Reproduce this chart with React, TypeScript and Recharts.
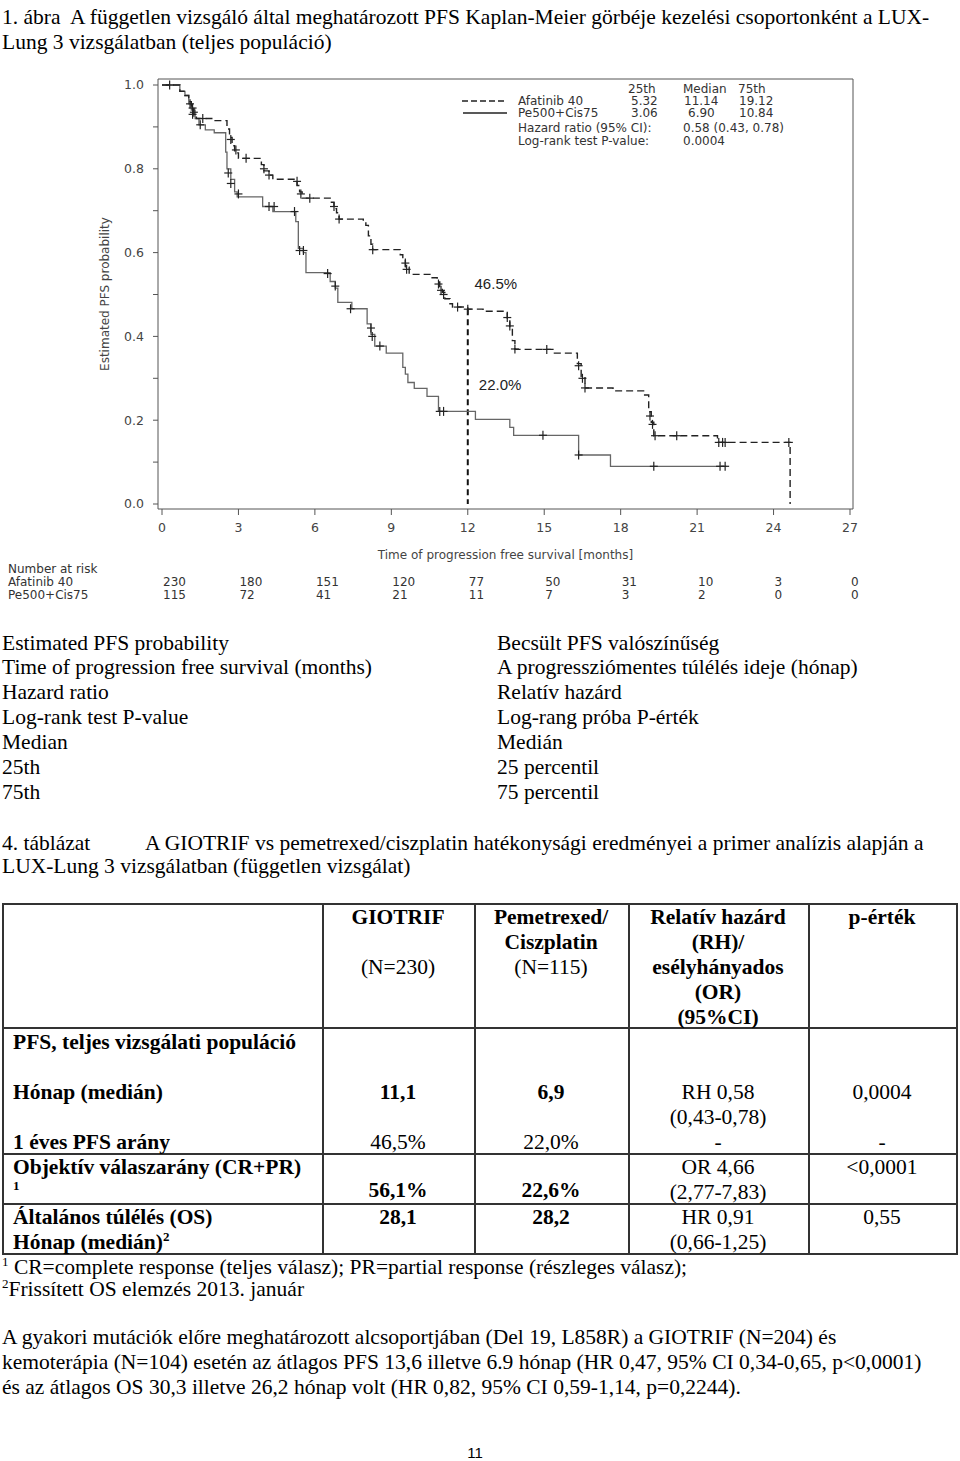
import React from "react";
import {
  ComposedChart,
  Line,
  Scatter,
  XAxis,
  YAxis,
  ReferenceLine,
  ReferenceDot,
} from "recharts";

document.body.style.margin = "0";

// tengelyek
const monthTicks = [0, 3, 6, 9, 12, 15, 18, 21, 24, 27];
const probTicks = [0, 0.1, 0.2, 0.3, 0.4, 0.5, 0.6, 0.7, 0.8, 0.9, 1.0];

// number at risk
const riskAfatinib = [230, 180, 151, 120, 77, 50, 31, 10, 3, 0];
const riskPemetrexed = [115, 72, 41, 21, 11, 7, 3, 2, 0, 0];

// Afatinib 40 - lépcsők (idő, túlélés)
const afatinibTimes = [
  0, 0.7, 0.9, 1.05, 1.15, 1.25, 1.35, 2.0, 2.55, 2.65, 2.75, 2.85, 3.0, 3.9, 4.0, 4.2, 4.35, 5.3, 5.4,
  5.5, 6.6, 6.75, 6.85, 6.95, 7.9, 8.0, 8.1, 8.2, 8.27, 9.35, 9.45, 9.55, 9.7, 10.6, 10.8, 10.9, 11.0,
  11.1, 11.3, 11.4, 12.0, 12.6, 13.55, 13.65, 13.75, 13.85, 15.4, 16.3, 16.45, 16.6, 17.7, 18.9, 19.1,
  19.2, 19.3, 21.8, 24.65,
];
const afatinibSurv = [
  1.0, 0.985, 0.975, 0.96, 0.945, 0.93, 0.92, 0.915, 0.895, 0.875, 0.855, 0.838, 0.825, 0.81, 0.795,
  0.785, 0.775, 0.76, 0.745, 0.73, 0.72, 0.705, 0.695, 0.68, 0.675, 0.665, 0.64, 0.62, 0.607, 0.595,
  0.585, 0.565, 0.548, 0.54, 0.53, 0.515, 0.505, 0.49, 0.478, 0.47, 0.465, 0.46, 0.44, 0.42, 0.39,
  0.369, 0.36, 0.335, 0.305, 0.277, 0.27, 0.26, 0.22, 0.195, 0.163, 0.147, 0,
];
const afatinibCensTimes = [
  0.3, 1.1, 1.2, 1.25, 1.6, 2.7, 2.9, 3.3, 4.0, 4.2, 5.3, 5.45, 5.8, 6.75, 6.95, 8.27, 9.55, 9.6, 10.85,
  10.95, 11.05, 11.6, 12.0, 13.55, 13.65, 13.85, 15.1, 16.35, 16.5, 16.6, 19.15, 19.25, 19.35, 20.2,
  21.85, 22.0, 22.1, 24.6,
];
const afatinibCensSurv = [
  1.0, 0.955, 0.945, 0.935, 0.92, 0.87, 0.845, 0.825, 0.8, 0.785, 0.77, 0.74, 0.73, 0.71, 0.68, 0.607,
  0.575, 0.56, 0.525, 0.51, 0.5, 0.47, 0.465, 0.445, 0.425, 0.37, 0.369, 0.33, 0.3, 0.277, 0.21, 0.19,
  0.163, 0.163, 0.147, 0.147, 0.147, 0.147,
];

// Pe500+Cis75
const pemetrexedTimes = [
  0, 0.7, 0.9, 1.05, 1.15, 1.3, 1.45, 1.7, 2.05, 2.5, 2.55, 2.7, 2.85, 2.95, 3.95, 4.35, 5.25, 5.35,
  5.55, 5.65, 6.6, 6.8, 6.9, 7.45, 8.05, 8.2, 8.35, 8.8, 9.45, 9.55, 9.65, 9.9, 10.4, 10.85, 12.3,
  13.65, 13.8, 16.35, 17.6, 22.15,
];
const pemetrexedSurv = [
  1.0, 0.985, 0.975, 0.955, 0.94, 0.92, 0.905, 0.893, 0.886, 0.84, 0.8, 0.775, 0.745, 0.733, 0.71,
  0.698, 0.674, 0.61, 0.6, 0.552, 0.531, 0.515, 0.481, 0.466, 0.43, 0.405, 0.377, 0.36, 0.326, 0.31,
  0.29, 0.276, 0.257, 0.221, 0.202, 0.183, 0.164, 0.117, 0.09, 0.09,
];
const pemetrexedCensTimes = [
  1.2, 1.5, 2.6, 2.7, 3.0, 4.2, 4.4, 5.2, 5.4, 5.55, 6.5, 6.8, 7.4, 8.2, 8.25, 8.55, 10.9, 11.05, 14.95,
  16.35, 19.3, 21.9, 22.1,
];
const pemetrexedCensSurv = [
  0.93, 0.905, 0.79, 0.765, 0.74, 0.71, 0.71, 0.698, 0.605, 0.605, 0.55, 0.52, 0.466, 0.42, 0.4, 0.377,
  0.221, 0.221, 0.164, 0.117, 0.09, 0.09, 0.09,
];

const toPoints = (ts: number[], ps: number[]) => ts.map((t, i) => ({ t, p: ps[i] }));
const afatinibSteps = toPoints(afatinibTimes, afatinibSurv);
const afatinibCensored = toPoints(afatinibCensTimes, afatinibCensSurv);
const pemetrexedSteps = toPoints(pemetrexedTimes, pemetrexedSurv);
const pemetrexedCensored = toPoints(pemetrexedCensTimes, pemetrexedCensSurv);

const sans = '"Liberation Sans", Arial, sans-serif';
const chartFont = '"DejaVu Sans", sans-serif';
const serif = '"Liberation Serif", "Times New Roman", serif';
const axisColor = "#555";

const Cross = (props: any) => {
  const { cx, cy, stroke } = props;
  return (
    <g stroke={stroke} strokeWidth={1.2}>
      <line x1={cx - 4} y1={cy} x2={cx + 4} y2={cy} />
      <line x1={cx} y1={cy - 4.5} x2={cx} y2={cy + 4.5} />
    </g>
  );
};

const RiskTick = (props: any) => {
  const { x, y, payload } = props;
  const i = monthTicks.indexOf(payload.value);
  return (
    <g fontFamily={chartFont} fontSize={12} fill="#333">
      <text x={x + 1} y={y + 21}>{riskAfatinib[i]}</text>
      <text x={x + 1} y={y + 34}>{riskPemetrexed[i]}</text>
    </g>
  );
};

const KmChart = () => (
  <ComposedChart width={960} height={620} margin={{ top: 78, right: 106, bottom: 15, left: 52 }}>
    <XAxis
      dataKey="t"
      type="number"
      domain={[0, 27]}
      ticks={monthTicks}
      interval={0}
      padding={{ left: 4, right: 3 }}
      height={56}
      tickSize={6}
      tickMargin={8}
      stroke={axisColor}
      tick={{ fill: "#444", fontSize: 12.5, fontFamily: chartFont }}
      label={{
        value: "Time of progression free survival [months]",
        position: "insideBottom",
        offset: 6,
        fill: "#444",
        fontSize: 12,
        fontFamily: chartFont,
      }}
    />
    <XAxis
      xAxisId="risk"
      dataKey="t"
      type="number"
      domain={[0, 27]}
      ticks={monthTicks}
      interval={0}
      padding={{ left: 4, right: 3 }}
      height={40}
      axisLine={false}
      tickLine={false}
      tickSize={0}
      tickMargin={0}
      tick={<RiskTick />}
    />
    <XAxis
      xAxisId="top"
      orientation="top"
      dataKey="t"
      type="number"
      domain={[0, 27]}
      padding={{ left: 4, right: 3 }}
      height={1}
      tick={false}
      tickLine={false}
      stroke={axisColor}
    />
    <YAxis
      dataKey="p"
      type="number"
      domain={[0, 1]}
      ticks={probTicks}
      interval={0}
      padding={{ top: 6, bottom: 5 }}
      width={106}
      tickSize={5}
      tickMargin={9}
      stroke={axisColor}
      tick={{ fill: "#444", fontSize: 12.5, fontFamily: chartFont }}
      tickFormatter={(v: number) => (Math.round(v * 10) % 2 === 0 ? v.toFixed(1) : "")}
      label={{
        value: "Estimated PFS probability",
        angle: -90,
        position: "center",
        fill: "#444",
        fontSize: 12,
        fontFamily: chartFont,
      }}
    />
    <YAxis
      yAxisId="right"
      orientation="right"
      dataKey="p"
      type="number"
      domain={[0, 1]}
      padding={{ top: 6, bottom: 5 }}
      width={1}
      tick={false}
      tickLine={false}
      stroke={axisColor}
    />
    {/* láthatatlan sorozatok, hogy a keret- és kockázati tengelyek is megjelenjenek */}
    <Line
      data={afatinibSteps}
      xAxisId="top"
      yAxisId="right"
      dataKey="p"
      stroke="none"
      dot={false}
      activeDot={false}
      isAnimationActive={false}
    />
    <Line
      data={afatinibSteps}
      xAxisId="risk"
      yAxisId="right"
      dataKey="p"
      stroke="none"
      dot={false}
      activeDot={false}
      isAnimationActive={false}
    />
    <ReferenceLine
      segment={[
        { x: 12, y: 0.465 },
        { x: 12, y: 0 },
      ]}
      stroke="#111"
      strokeWidth={2}
      strokeDasharray="6 4"
    />
    <Line
      data={pemetrexedSteps}
      dataKey="p"
      type="stepAfter"
      stroke="#666"
      strokeWidth={1.3}
      dot={false}
      isAnimationActive={false}
    />
    <Line
      data={afatinibSteps}
      dataKey="p"
      type="stepAfter"
      stroke="#222"
      strokeWidth={1.4}
      strokeDasharray="7 4"
      dot={false}
      isAnimationActive={false}
    />
    <Scatter data={pemetrexedCensored} dataKey="p" stroke="#222" shape={<Cross />} isAnimationActive={false} />
    <Scatter data={afatinibCensored} dataKey="p" stroke="#222" shape={<Cross />} isAnimationActive={false} />
    <ReferenceDot
      x={13.1}
      y={0.527}
      r={0}
      fill="none"
      stroke="none"
      label={{ value: "46.5%", position: "center", fill: "#222", fontSize: 15, fontFamily: sans }}
    />
    <ReferenceDot
      x={13.27}
      y={0.284}
      r={0}
      fill="none"
      stroke="none"
      label={{ value: "22.0%", position: "center", fill: "#222", fontSize: 15, fontFamily: sans }}
    />
  </ComposedChart>
);

type TProps = {
  x: number;
  y: number;
  children: React.ReactNode;
  bold?: boolean;
  center?: boolean;
  size?: number;
  font?: string;
  color?: string;
};

const T = ({ x, y, children, bold, center, size = 21.5, font = serif, color = "#000" }: TProps) => (
  <div
    style={{
      position: "absolute",
      left: center ? x - 200 : x,
      width: center ? 400 : undefined,
      textAlign: center ? "center" : undefined,
      top: y - size * 0.66,
      fontSize: size,
      lineHeight: `${Math.round(size * 1.32)}px`,
      fontWeight: bold ? 700 : 400,
      whiteSpace: "nowrap",
      fontFamily: font,
      color,
    }}
  >
    {children}
  </div>
);

const C = (props: TProps) => <T font={chartFont} size={12} color="#333" {...props} />;

const HLine = ({ x1, x2, y }: { x1: number; x2: number; y: number }) => (
  <div style={{ position: "absolute", left: x1, top: y, width: x2 - x1, height: 1.5, background: "#333" }} />
);
const VLine = ({ x, y1, y2 }: { x: number; y1: number; y2: number }) => (
  <div style={{ position: "absolute", left: x, top: y1, width: 1.5, height: y2 - y1, background: "#333" }} />
);

const tableCols = [2, 322, 474, 628, 808, 956];
const tableRows = [903, 1027, 1153, 1203, 1253];
const supStyle: React.CSSProperties = { fontSize: 13, lineHeight: 0, verticalAlign: "0.6em" };

export default function App() {
  return (
    <div style={{ position: "relative", width: 960, height: 1461, background: "#fff", overflow: "hidden" }}>
      <T x={2} y={17}>1. ábra&nbsp; A független vizsgáló által meghatározott PFS Kaplan-Meier görbéje kezelési csoportonként a LUX-</T>
      <T x={2} y={42}>Lung 3 vizsgálatban (teljes populáció)</T>

      <div style={{ position: "absolute", left: 0, top: 0 }}>
        <KmChart />
      </div>

      {/* jelmagyarázat a grafikonon */}
      <svg style={{ position: "absolute", left: 460, top: 95 }} width={50} height={24}>
        <line x1={2} y1={6} x2={47} y2={6} stroke="#222" strokeWidth={1.4} strokeDasharray="6 3" />
        <line x1={3} y1={18} x2={47} y2={18} stroke="#222" strokeWidth={1.4} />
      </svg>
      <C x={628} y={89}>25th</C>
      <C x={683} y={89}>Median</C>
      <C x={738} y={89}>75th</C>
      <C x={518} y={101}>Afatinib 40</C>
      <C x={631} y={101}>5.32</C>
      <C x={684} y={101}>11.14</C>
      <C x={739} y={101}>19.12</C>
      <C x={518} y={113}>Pe500+Cis75</C>
      <C x={631} y={113}>3.06</C>
      <C x={688} y={113}>6.90</C>
      <C x={739} y={113}>10.84</C>
      <C x={518} y={128}>Hazard ratio (95% CI):</C>
      <C x={683} y={128}>0.58 (0.43, 0.78)</C>
      <C x={518} y={141}>Log-rank test P-value:</C>
      <C x={683} y={141}>0.0004</C>

      <C x={8} y={569}>Number at risk</C>
      <C x={8} y={582}>Afatinib 40</C>
      <C x={8} y={595}>Pe500+Cis75</C>

      {/* fordítások */}
      <T x={2} y={643}>Estimated PFS probability</T>
      <T x={2} y={667}>Time of progression free survival (months)</T>
      <T x={2} y={692}>Hazard ratio</T>
      <T x={2} y={717}>Log-rank test P-value</T>
      <T x={2} y={742}>Median</T>
      <T x={2} y={767}>25th</T>
      <T x={2} y={792}>75th</T>
      <T x={497} y={643}>Becsült PFS valószínűség</T>
      <T x={497} y={667}>A progressziómentes túlélés ideje (hónap)</T>
      <T x={497} y={692}>Relatív hazárd</T>
      <T x={497} y={717}>Log-rang próba P-érték</T>
      <T x={497} y={742}>Medián</T>
      <T x={497} y={767}>25 percentil</T>
      <T x={497} y={792}>75 percentil</T>

      <T x={2} y={843}>4. táblázat</T>
      <T x={145} y={843}>A GIOTRIF vs pemetrexed/ciszplatin hatékonysági eredményei a primer analízis alapján a</T>
      <T x={2} y={866}>LUX-Lung 3 vizsgálatban (független vizsgálat)</T>

      {/* táblázat */}
      {tableRows.map((y) => (
        <HLine key={"h" + y} x1={tableCols[0]} x2={tableCols[5] + 1.5} y={y} />
      ))}
      {tableCols.map((x) => (
        <VLine key={"v" + x} x={x} y1={tableRows[0]} y2={tableRows[4] + 1.5} />
      ))}

      <T x={398} y={917} center bold>GIOTRIF</T>
      <T x={398} y={967} center>(N=230)</T>
      <T x={551} y={917} center bold>Pemetrexed/</T>
      <T x={551} y={942} center bold>Ciszplatin</T>
      <T x={551} y={967} center>(N=115)</T>
      <T x={718} y={917} center bold>Relatív hazárd</T>
      <T x={718} y={942} center bold>(RH)/</T>
      <T x={718} y={967} center bold>esélyhányados</T>
      <T x={718} y={992} center bold>(OR)</T>
      <T x={718} y={1017} center bold>(95%CI)</T>
      <T x={882} y={917} center bold>p-érték</T>

      <T x={13} y={1042} bold>PFS, teljes vizsgálati populáció</T>
      <T x={13} y={1092} bold>Hónap (medián)</T>
      <T x={13} y={1142} bold>1 éves PFS arány</T>
      <T x={398} y={1092} center bold>11,1</T>
      <T x={398} y={1142} center>46,5%</T>
      <T x={551} y={1092} center bold>6,9</T>
      <T x={551} y={1142} center>22,0%</T>
      <T x={718} y={1092} center>RH 0,58</T>
      <T x={718} y={1117} center>(0,43-0,78)</T>
      <T x={718} y={1142} center>-</T>
      <T x={882} y={1092} center>0,0004</T>
      <T x={882} y={1142} center>-</T>

      <T x={13} y={1167} bold>Objektív válaszarány (CR+PR)</T>
      <T x={13} y={1186} bold size={13}>1</T>
      <T x={398} y={1190} center bold>56,1%</T>
      <T x={551} y={1190} center bold>22,6%</T>
      <T x={718} y={1167} center>OR 4,66</T>
      <T x={718} y={1192} center>(2,77-7,83)</T>
      <T x={882} y={1167} center>&lt;0,0001</T>

      <T x={13} y={1217} bold>Általános túlélés (OS)</T>
      <T x={13} y={1242} bold>
        Hónap (medián)<span style={supStyle}>2</span>
      </T>
      <T x={398} y={1217} center bold>28,1</T>
      <T x={551} y={1217} center bold>28,2</T>
      <T x={718} y={1217} center>HR 0,91</T>
      <T x={718} y={1242} center>(0,66-1,25)</T>
      <T x={882} y={1217} center>0,55</T>

      <T x={2} y={1267}>
        <span style={supStyle}>1</span> CR=complete response (teljes válasz); PR=partial response (részleges válasz);
      </T>
      <T x={2} y={1289}>
        <span style={supStyle}>2</span>Frissített OS elemzés 2013. január
      </T>

      <T x={2} y={1337}>A gyakori mutációk előre meghatározott alcsoportjában (Del 19, L858R) a GIOTRIF (N=204) és</T>
      <T x={2} y={1362}>kemoterápia (N=104) esetén az átlagos PFS 13,6 illetve 6.9 hónap (HR 0,47, 95% CI 0,34-0,65, p&lt;0,0001)</T>
      <T x={2} y={1387}>és az átlagos OS 30,3 illetve 26,2 hónap volt (HR 0,82, 95% CI 0,59-1,14, p=0,2244).</T>

      <T x={475} y={1453} center font={sans} size={15}>11</T>
    </div>
  );
}
